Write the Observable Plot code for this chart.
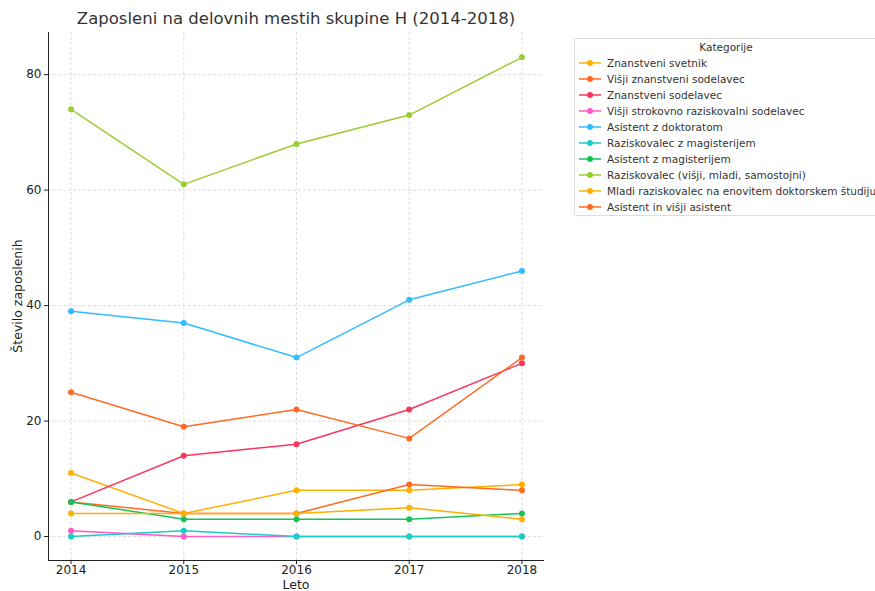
<!DOCTYPE html>
<html>
<head>
<meta charset="utf-8">
<script src="https://cdn.jsdelivr.net/npm/d3@7"></script>
<script src="https://cdn.jsdelivr.net/npm/@observablehq/plot@0.6"></script>
<style>
  html, body { margin: 0; padding: 0; background: #fff; overflow: hidden; }
  #wrap { position: relative; width: 875px; height: 591px; font-family: "DejaVu Sans", sans-serif; color: #333; }
  #wrap > svg { position: absolute; left: 0; top: 0; }
  .title { position: absolute; left: 48px; width: 496px; top: 9px; text-align: center; font-size: 16.5px; color: #333; white-space: nowrap; }
  .xlabel { position: absolute; left: 48px; width: 496px; top: 577px; text-align: center; font-size: 12.5px; color: #222; }
  .ylabel { position: absolute; left: 17px; top: 296px; font-size: 12.5px; color: #222; transform: translate(-50%, -50%) rotate(-90deg); white-space: nowrap; }
  .legend { position: absolute; left: 574px; top: 38px; width: 320px; height: 178px; border: 1px solid #ddd; border-radius: 3px; background: #fff; box-sizing: border-box; font-size: 10.5px; color: #333; }
  .legend .lt { position: absolute; left: 0; width: 302px; top: 2px; text-align: center; }
  .legend .row { position: absolute; left: 4px; height: 16px; display: flex; align-items: center; white-space: nowrap; }
  .legend .row svg { display: block; margin-right: 6px; }
</style>
</head>
<body>
<div id="wrap"></div>
<script>
const years = [2014, 2015, 2016, 2017, 2018];
const categories = [
  "Znanstveni svetnik",
  "Višji znanstveni sodelavec",
  "Znanstveni sodelavec",
  "Višji strokovno raziskovalni sodelavec",
  "Asistent z doktoratom",
  "Raziskovalec z magisterijem",
  "Asistent z magisterijem",
  "Raziskovalec (višji, mladi, samostojni)",
  "Mladi raziskovalec na enovitem doktorskem študiju",
  "Asistent in višji asistent"
];
const znanstveniSvetnik = [11, 4, 8, 8, 9];
const visjiZnanstveniSodelavec = [6, 4, 4, 9, 8];
const znanstveniSodelavec = [6, 14, 16, 22, 30];
const visjiStrokovnoRaziskovalni = [1, 0, 0, 0, 0];
const asistentZDoktoratom = [39, 37, 31, 41, 46];
const raziskovalecZMagisterijem = [0, 1, 0, 0, 0];
const asistentZMagisterijem = [6, 3, 3, 3, 4];
const raziskovalec = [74, 61, 68, 73, 83];
const mladiRaziskovalec = [4, 4, 4, 5, 3];
const asistentInVisjiAsistent = [25, 19, 22, 17, 31];
const seriesValues = [
  znanstveniSvetnik, visjiZnanstveniSodelavec, znanstveniSodelavec,
  visjiStrokovnoRaziskovalni, asistentZDoktoratom, raziskovalecZMagisterijem,
  asistentZMagisterijem, raziskovalec, mladiRaziskovalec, asistentInVisjiAsistent
];
const colors = [
  "#FFB000", "#FF6A22", "#F8365C", "#FF58C8", "#33BBFF",
  "#18CEC4", "#14C45A", "#9ACD32", "#FFB000", "#FF6A22"
];
const yTicks = [0, 20, 40, 60, 80];

const data = [];
categories.forEach((c, i) => {
  seriesValues[i].forEach((v, j) => data.push({cat: c, idx: i, year: years[j], value: v}));
});

const xDomain = [2013.8, 2018.2];
const yDomain = [-4.15, 87.3];

const marks = [
  Plot.gridX(years, {stroke: "#d0d0d0", strokeOpacity: 1, strokeDasharray: "3,2", strokeWidth: 0.7}),
  Plot.gridY(yTicks, {stroke: "#d0d0d0", strokeOpacity: 1, strokeDasharray: "3,2", strokeWidth: 0.7}),
  Plot.ruleX([xDomain[0]], {stroke: "#222", strokeWidth: 1}),
  Plot.ruleY([yDomain[0]], {stroke: "#222", strokeWidth: 1}),
  Plot.axisX(years, {tickFormat: d => String(d), tickSize: 4, tickPadding: 1, fontSize: 12, label: null, color: "#222"}),
  Plot.axisY(yTicks, {tickSize: 4, tickPadding: 3, fontSize: 12, label: null, color: "#222"})
];
categories.forEach((c, i) => {
  const d = data.filter(r => r.idx === i);
  marks.push(Plot.line(d, {x: "year", y: "value", stroke: colors[i], strokeWidth: 1.5}));
  marks.push(Plot.dot(d, {x: "year", y: "value", fill: colors[i], r: 3, stroke: "none"}));
});

const chart = Plot.plot({
  width: 875,
  height: 591,
  marginLeft: 48,
  marginRight: 331,
  marginTop: 32,
  marginBottom: 31,
  style: {fontFamily: "DejaVu Sans, sans-serif", background: "#fff"},
  x: {domain: xDomain},
  y: {domain: yDomain},
  marks
});

const wrap = document.getElementById("wrap");
wrap.appendChild(chart);

const t = document.createElement("div");
t.className = "title";
t.textContent = "Zaposleni na delovnih mestih skupine H (2014-2018)";
wrap.appendChild(t);

const xl = document.createElement("div");
xl.className = "xlabel";
xl.textContent = "Leto";
wrap.appendChild(xl);

const yl = document.createElement("div");
yl.className = "ylabel";
yl.textContent = "Število zaposlenih";
wrap.appendChild(yl);

const lg = document.createElement("div");
lg.className = "legend";
const lt = document.createElement("div");
lt.className = "lt";
lt.textContent = "Kategorije";
lg.appendChild(lt);
categories.forEach((c, i) => {
  const row = document.createElement("div");
  row.className = "row";
  row.style.top = (16 + i * 16) + "px";
  row.innerHTML = `<svg width="22" height="10"><line x1="0" y1="5" x2="22" y2="5" stroke="${colors[i]}" stroke-width="1.5"/><circle cx="11" cy="5" r="3" fill="${colors[i]}"/></svg><span></span>`;
  row.querySelector("span").textContent = c;
  lg.appendChild(row);
});
wrap.appendChild(lg);
</script>
</body>
</html>
